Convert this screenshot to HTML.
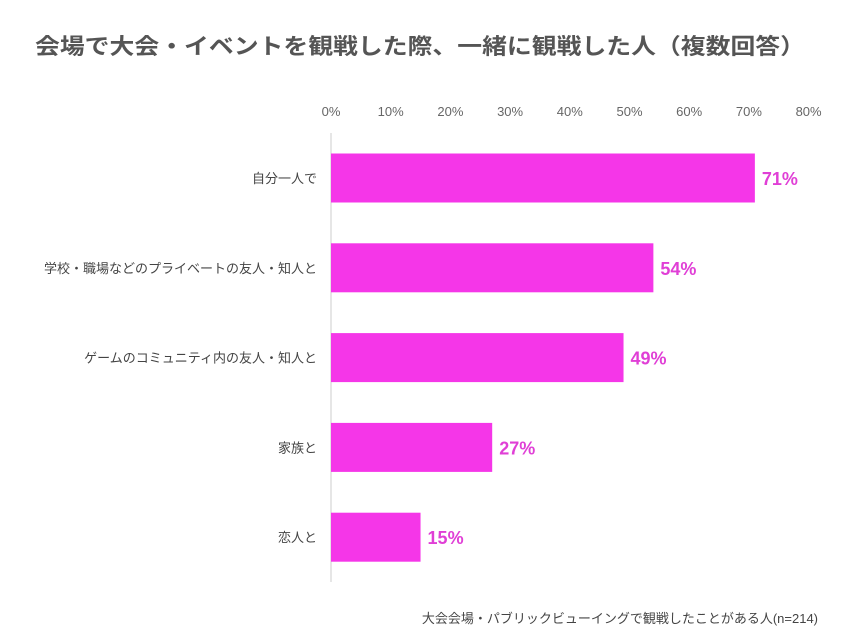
<!DOCTYPE html>
<html><head><meta charset="utf-8"><style>
body{margin:0;background:#fff;}
svg{display:block;font-family:"Liberation Sans","Noto Sans CJK JP",sans-serif;}
</style></head><body>
<svg id="chart" width="853" height="640" viewBox="0 0 853 640">
<rect width="853" height="640" fill="#fff"/>
<text x="35" y="54" font-size="22" font-weight="bold" fill="#555" textLength="770" lengthAdjust="spacingAndGlyphs">会場で大会・イベントを観戦した際、一緒に観戦した人（複数回答）</text>
<g id="xticks"></g>
<line x1="331" y1="133" x2="331" y2="582" stroke="#ddd" stroke-width="1.5"/>
<g id="bars"></g>
<text x="818" y="623" font-size="13" fill="#444" text-anchor="end">大会会場・パブリックビューイングで観戦したことがある人(n=214)</text>
</svg>
<script>
const categories=["自分一人で","学校・職場などのプライベートの友人・知人と","ゲームのコミュニティ内の友人・知人と","家族と","恋人と"];
const values=[71,54,49,27,15];
const tickValues=[0,10,20,30,40,50,60,70,80];
const NS="http://www.w3.org/2000/svg";
const x0=331,pxPer=5.97;
function xScale(v){return x0+v*pxPer;}
function yCenter(i){return 178+i*89.8;}
const bh=49;
const xt=document.getElementById('xticks');
tickValues.forEach(t=>{
  const tx=document.createElementNS(NS,'text');
  
  
  tx.setAttribute('x',xScale(t));tx.setAttribute('y',116);
  tx.setAttribute('text-anchor','middle');tx.setAttribute('font-size','13');tx.setAttribute('fill','#666');
  tx.textContent=t+'%';xt.appendChild(tx);
});
const bg=document.getElementById('bars');
categories.forEach((c,i)=>{
  const yc=yCenter(i);
  const r=document.createElementNS(NS,'rect');
  
  
  r.setAttribute('x',x0);r.setAttribute('y',yc-bh/2);
  r.setAttribute('width',xScale(values[i])-x0);r.setAttribute('height',bh);
  r.setAttribute('fill','#f536e8');bg.appendChild(r);
  const l=document.createElementNS(NS,'text');
  
  
  l.setAttribute('x',317);l.setAttribute('y',yc+5);l.setAttribute('text-anchor','end');
  l.setAttribute('font-size','13');l.setAttribute('fill','#444');
  l.textContent=c;bg.appendChild(l);
  const v=document.createElementNS(NS,'text');
  
  
  v.setAttribute('x',xScale(values[i])+7);v.setAttribute('y',yc+7);
  v.setAttribute('font-size','18');v.setAttribute('font-weight','bold');v.setAttribute('fill','#e03fd6');
  v.textContent=values[i]+'%';bg.appendChild(v);
});
</script>
</body></html>
